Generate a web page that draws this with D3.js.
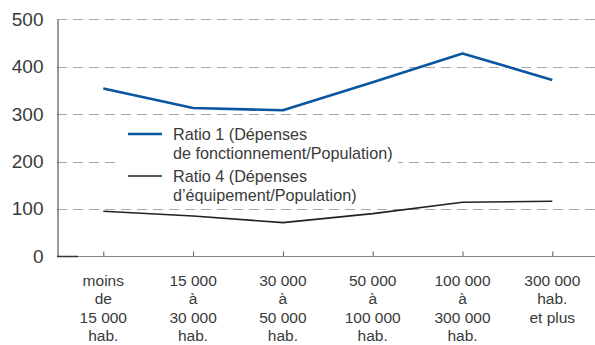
<!DOCTYPE html>
<html>
<head>
<meta charset="utf-8">
<script src="https://cdn.jsdelivr.net/npm/d3@7"></script>
<style>
  html, body { margin: 0; padding: 0; background: #fff; }
  svg text { font-family: "Liberation Sans", Arial, sans-serif; fill: #3a3a3a; }
</style>
</head>
<body>
<svg id="chart" width="595" height="345"></svg>
<script>
// Population size classes (one label line per array item)
const categories = [
  ["moins", "de", "15 000", "hab."],
  ["15 000", "à", "30 000", "hab."],
  ["30 000", "à", "50 000", "hab."],
  ["50 000", "à", "100 000", "hab."],
  ["100 000", "à", "300 000", "hab."],
  ["300 000", "hab.", "et plus"]
];
// Ratio 1: operating expenditure per inhabitant
const ratio1 = [354, 313, 308, 367, 428, 372];
// Ratio 4: capital expenditure per inhabitant
const ratio4 = [95, 85, 71, 90, 114, 116];
const yTicks = [0, 100, 200, 300, 400, 500];
const legendItems = [
  { lines: ["Ratio 1 (Dépenses", "de fonctionnement/Population)"], color: "#0a56a0", width: 2.6 },
  { lines: ["Ratio 4  (Dépenses", "d’équipement/Population)"], color: "#222222", width: 1.6 }
];

const svg = d3.select("#chart");
const plotLeft = 57, plotRight = 595, plotTop = 19.3, plotBottom = 256.3;

const keys = categories.map(c => c.join(" "));
const x = d3.scalePoint().domain(keys).range([103.3, 552.3]);
const y = d3.scaleLinear().domain([0, 500]).range([plotBottom, plotTop]);

// Dashed horizontal gridlines
svg.append("g")
  .selectAll("line")
  .data(yTicks.filter(d => d > 0))
  .join("line")
  .attr("x1", plotLeft).attr("x2", plotRight)
  .attr("y1", d => Math.round(y(d)) + 0.5).attr("y2", d => Math.round(y(d)) + 0.5)
  .attr("stroke", "#a8a8a8")
  .attr("stroke-width", 1)
  .attr("stroke-dasharray", "10,6");

// Y axis labels and line
const yAxis = d3.axisLeft(y).tickValues(yTicks).tickSize(0).tickPadding(14);
const gy = svg.append("g").attr("transform", `translate(${plotLeft + 0.5},0)`).call(yAxis);
gy.select(".domain").attr("stroke", "#333").attr("stroke-width", 1);
gy.selectAll("text")
  .style("font-size", "19px")
  .attr("fill", "#3a3a3a");

// X baseline with small upward ticks
const xAxis = d3.axisBottom(x).tickSize(-5).tickFormat(() => "");
const gx = svg.append("g").attr("transform", `translate(0,${Math.round(plotBottom) + 0.5})`).call(xAxis);
gx.select(".domain").attr("d", `M${plotLeft},0H${plotRight}`).attr("stroke", "#8a8a8a");
gx.selectAll(".tick line").attr("stroke", "#555");
gx.append("line")
  .attr("x1", plotLeft).attr("x2", plotLeft + 21).attr("y1", 0).attr("y2", 0)
  .attr("stroke", "#333").attr("stroke-width", 1.5);

// Multi-line category labels
const labels = svg.append("g")
  .selectAll("text")
  .data(categories)
  .join("text")
  .attr("text-anchor", "middle")
  .style("font-size", "15.5px")
  .attr("x", (d, i) => x(keys[i]))
  .attr("y", 285.5);
labels.selectAll("tspan")
  .data(d => d)
  .join("tspan")
  .attr("x", function() { return d3.select(this.parentNode).attr("x"); })
  .attr("dy", (d, i) => i === 0 ? 0 : 18.5)
  .text(d => d);

// Series lines
const line = d3.line().x((d, i) => x(keys[i])).y(d => y(d));
svg.append("path").datum(ratio4)
  .attr("d", line).attr("fill", "none")
  .attr("stroke", legendItems[1].color).attr("stroke-width", legendItems[1].width);
svg.append("path").datum(ratio1)
  .attr("d", line).attr("fill", "none")
  .attr("stroke", legendItems[0].color).attr("stroke-width", legendItems[0].width)
  .attr("stroke-linejoin", "round");

// Legend on a white panel
const lg = svg.append("g").attr("transform", "translate(128,0)");
lg.append("rect").attr("x", -11).attr("y", 121).attr("width", 281).attr("height", 80).attr("fill", "#fff");
legendItems.forEach((item, i) => {
  const yy = 134 + i * 42;
  lg.append("line").attr("x1", 0).attr("x2", 34).attr("y1", yy).attr("y2", yy)
    .attr("stroke", item.color).attr("stroke-width", item.width);
  const t = lg.append("text").attr("x", 45).attr("y", yy + 5.5).style("font-size", "16.2px");
  item.lines.forEach((s, j) => {
    t.append("tspan").attr("x", 45).attr("dy", j === 0 ? 0 : 19).text(s);
  });
});
</script>
</body>
</html>
